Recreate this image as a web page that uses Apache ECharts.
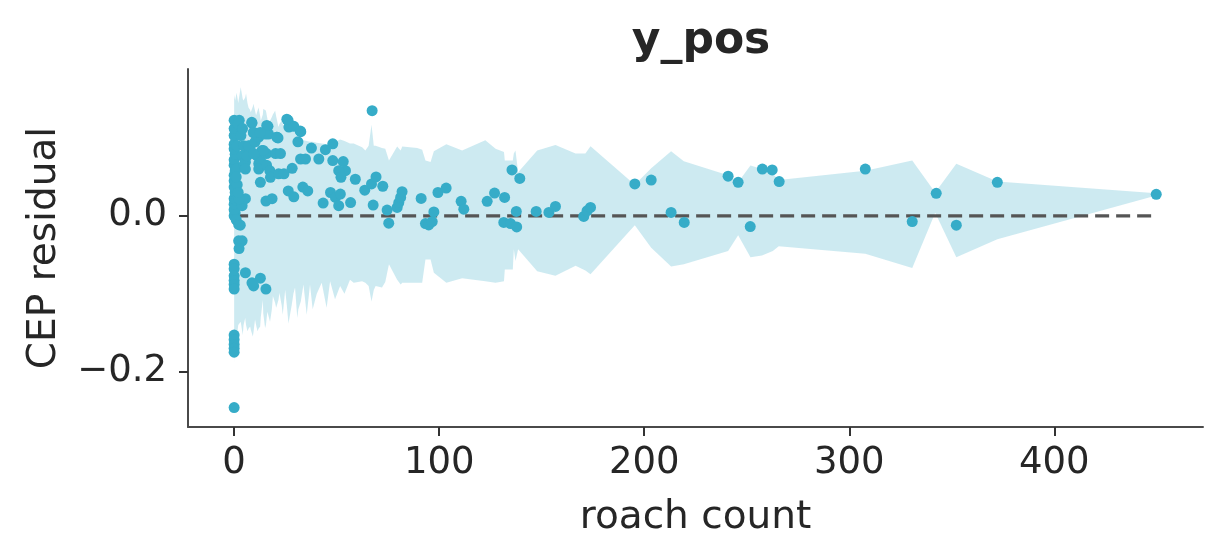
<!DOCTYPE html>
<html>
<head>
<meta charset="utf-8">
<script src="https://cdn.jsdelivr.net/npm/echarts@6/dist/echarts.min.js"></script>
<style>
html,body{margin:0;padding:0;background:#fff;}
#chart{width:1223px;height:559px;}
</style>
</head>
<body>
<div id="chart"></div>
<script>
// ---- data ----
const titleText = 'y_pos';
const xName = 'roach count';
const yName = 'CEP residual';
const xTicks = [0, 100, 200, 300, 400];
const yTicks = [-0.2, 0.0];

const bandX = [0,0.5,1.2,2,3.2,4.2,4.6,5.4,5.8,6.5,
  7.0,7.8,8.1,9.1,9.4,10.2,10.7,11.4,11.9,12.7,
  13.0,14.0,14.2,15.1,15.5,16.2,16.7,17.5,18.4,18.9,
  20.0,20.5,21.6,22.1,23.2,23.7,24.9,25.7,26.5,28.1,
  28.9,29.7,30.8,31.3,32.5,33.8,35.4,37.0,38.3,40.3,
  42.7,45.1,46.8,49.2,51.7,53.8,56.5,58.3,62.4,64.0,
  65.6,67.0,68.1,69.0,72.1,73.7,75.5,79.5,81.2,82.0,
  89.3,91.7,93.3,95.8,97.4,103.5,111.2,122.5,127.5,131.6,
  132.0,135.9,136.4,137.2,138.5,147.8,156.7,166.5,171.3,173.8,
  195.4,203.4,213.1,219.3,240.9,245.8,251.8,257.4,262.7,265.6,
  307.8,330.7,341.9,352.2,372.2,449.7];
const bandUpper = [0.155,0.148,0.158,0.145,0.165,0.150,0.148,0.152,0.157,0.145,
  0.139,0.136,0.133,0.140,0.144,0.135,0.129,0.135,0.139,0.128,
  0.122,0.130,0.137,0.136,0.135,0.125,0.118,0.122,0.127,0.130,
  0.135,0.128,0.114,0.118,0.122,0.118,0.113,0.109,0.111,0.113,
  0.114,0.108,0.102,0.100,0.098,0.097,0.096,0.095,0.095,0.094,
  0.093,0.092,0.093,0.095,0.098,0.096,0.093,0.093,0.088,0.084,
  0.090,0.117,0.090,0.090,0.087,0.086,0.071,0.089,0.084,0.089,
  0.087,0.085,0.071,0.069,0.083,0.092,0.084,0.097,0.086,0.082,
  0.071,0.071,0.080,0.084,0.056,0.084,0.091,0.080,0.080,0.0895,
  0.040,0.061,0.083,0.070,0.052,0.043,0.0646,0.060,0.054,0.046,
  0.058,0.071,0.030,0.067,0.044,0.029];
const bandLower = [-0.188,-0.145,-0.158,-0.140,-0.136,-0.153,-0.140,-0.131,-0.140,-0.148,
  -0.145,-0.142,-0.146,-0.155,-0.150,-0.133,-0.140,-0.148,-0.145,-0.142,
  -0.130,-0.108,-0.125,-0.144,-0.140,-0.123,-0.128,-0.136,-0.120,-0.103,
  -0.112,-0.118,-0.108,-0.099,-0.115,-0.127,-0.095,-0.115,-0.138,-0.114,
  -0.100,-0.092,-0.131,-0.120,-0.110,-0.088,-0.127,-0.088,-0.120,-0.100,
  -0.086,-0.118,-0.084,-0.107,-0.090,-0.100,-0.082,-0.086,-0.084,-0.086,
  -0.090,-0.110,-0.095,-0.090,-0.092,-0.085,-0.062,-0.082,-0.088,-0.086,
  -0.086,-0.086,-0.056,-0.056,-0.073,-0.086,-0.080,-0.084,-0.086,-0.084,
  -0.069,-0.069,-0.043,-0.058,-0.043,-0.071,-0.077,-0.064,-0.070,-0.075,
  -0.012,-0.041,-0.065,-0.062,-0.045,-0.025,-0.053,-0.051,-0.045,-0.039,
  -0.0485,-0.067,0.004,-0.053,-0.030,0.026];

const pointsX = [0,0,0,0,0,0,0,0,0,0,0,0,
  0.5,0,0,0,0,0.5,0,0,0,0.5,0,0,0.5,0,0,0,0,0,
  1,1.5,1,1.5,1,1,2.5,3.3,2.2,3,2.2,3.9,2.4,
  5.5,9.5,12.8,15.5,8.7,
  4.7,6.3,7.9,3.9,4.7,5.5,5.5,6.3,
  3.9,5.5,2.4,2,
  8.7,9.5,7.0,10.2,12.0,
  11.2,12.0,13.6,15.8,20.2,22.6,14.2,9.5,
  13.2,12.0,15.8,17.4,
  12.8,17.7,21.7,24.3,28.3,
  15.5,18.5,
  16.5,15.2,16.8,20.9,21.4,
  26.3,26.7,29.1,32.5,31.1,37.7,
  32.4,34.8,41.3,
  26.4,29.1,33.5,35.9,
  43.4,47.0,49.4,51.0,51.8,56.8,
  48.1,44.5,48.1,53.2,54.3,51.0,52.1,59.1,
  67.3,
  63.7,67.0,69.2,72.5,
  67.8,74.6,75.4,
  79.5,80.3,81.2,81.9,
  91.2,97.4,93.3,94.9,96.6,
  99.4,103.4,
  110.7,112.0,
  123.4,127.0,131.9,
  135.5,139.3,
  137.6,131.5,134.8,137.8,
  147.3,153.5,156.7,
  170.5,172.1,173.8,
  195.4,203.4,213.1,219.5,
  240.9,245.8,251.7,257.6,262.4,265.8,
  307.8,330.7,342.4,352.2,372.2,449.7,
  8.6,15.9,25.7,32.2,20.8,9.4,12.7,2,4.1];
const pointsY = [-0.246,-0.153,-0.159,-0.165,-0.170,-0.175,-0.062,-0.068,-0.077,-0.083,-0.088,-0.094,
  0.004,0.0,0.008,0.015,0.022,0.030,0.037,0.045,0.052,0.058,0.065,0.072,0.079,0.086,0.092,0.103,0.112,0.1226,
  0.02,0.04,0.06,0.09,0.05,-0.005,0.1226,0.103,-0.011,-0.012,-0.032,-0.032,-0.042,
  -0.073,-0.090,-0.080,-0.094,-0.086,
  0.090,0.084,0.090,0.077,0.065,0.069,0.060,0.077,
  0.013,0.022,0.0215,0.030,
  0.119,0.107,0.090,0.095,0.101,
  0.077,0.067,0.084,0.080,0.080,0.080,0.084,0.080,
  0.069,0.060,0.065,0.058,
  0.043,0.0495,0.054,0.054,0.061,
  0.019,0.022,
  0.115,0.105,0.105,0.101,0.100,
  0.1226,0.114,0.115,0.108,0.095,0.087,
  0.073,0.073,0.073,
  0.032,0.0245,0.037,0.032,
  0.0164,0.030,0.0237,0.013,0.028,0.017,
  0.0925,0.085,0.071,0.0697,0.058,0.058,0.0495,0.047,
  0.135,
  0.033,0.041,0.050,0.038,
  0.0138,0.0074,-0.0094,
  0.0108,0.017,0.0237,0.031,
  0.0224,0.005,-0.0099,-0.0116,-0.0073,
  0.030,0.0357,
  0.0186,0.0086,
  0.0186,0.0293,0.0237,
  0.059,0.048,
  0.0057,-0.0085,-0.0099,-0.0142,
  0.0057,0.0044,0.0121,
  -0.0008,0.0065,0.0108,
  0.041,0.046,0.0044,-0.0085,
  0.051,0.043,-0.0137,0.060,0.059,0.044,
  0.060,-0.0073,0.0289,-0.012,0.043,0.0276,
  0.120,0.116,0.124,0.109,0.101,0.107,0.107,0.118,0.112];

const xMin = -22.5, xMax = 472.5;
const yMin = -0.271, yMax = 0.1885;

// ---- chart ----
const FONT = 'DejaVu Sans';
const dotColor = '#36acc8';
const chart = echarts.init(document.getElementById('chart'), null, {renderer: 'canvas'});
const maxX = Math.max.apply(null, pointsX);
const minX = Math.min.apply(null, pointsX);
const fmtY = v => (Math.abs(v) < 1e-9 ? '0.0' : v.toFixed(1).replace('-', '\u2212'));

chart.setOption({
  animation: false,
  backgroundColor: '#ffffff',
  textStyle: {fontFamily: FONT},
  title: {
    text: titleText, left: 696, top: 15, textAlign: 'center',
    textStyle: {fontFamily: FONT, fontSize: 44, fontWeight: 'bold', color: '#262626'}
  },
  grid: {left: 188, right: 20, top: 69, bottom: 132, containLabel: false},
  xAxis: {
    type: 'value', min: xMin, max: xMax,
    name: xName, nameLocation: 'middle', nameGap: 71,
    nameTextStyle: {fontFamily: FONT, fontSize: 39, color: '#262626'},
    axisLine: {show: true, onZero: false, lineStyle: {color: '#4a4a4a', width: 2}},
    axisTick: {show: true, length: 9, lineStyle: {color: '#333', width: 2}, customValues: xTicks},
    axisLabel: {fontFamily: FONT, fontSize: 37, color: '#262626', margin: 18, customValues: xTicks, formatter: v => String(v)},
    splitLine: {show: false}
  },
  yAxis: {
    type: 'value', min: yMin, max: yMax,
    name: yName, nameLocation: 'middle', nameGap: 124, nameRotate: 90,
    nameTextStyle: {fontFamily: FONT, fontSize: 39, color: '#262626'},
    axisLine: {show: true, onZero: false, lineStyle: {color: '#4a4a4a', width: 2}},
    axisTick: {show: true, length: 9, lineStyle: {color: '#333', width: 2}, customValues: yTicks},
    axisLabel: {fontFamily: FONT, fontSize: 37, color: '#262626', margin: 21, customValues: yTicks, formatter: fmtY},
    splitLine: {show: false}
  },
  series: [
    {
      type: 'custom', silent: true, z: 1, clip: true,
      data: bandX.map((x, i) => [x, bandUpper[i], bandLower[i]]),
      encode: {x: 0, y: [1, 2]},
      renderItem: function (params, api) {
        if (params.dataIndex !== 0) return null;
        const pts = [];
        for (let i = 0; i < bandX.length; i++) pts.push(api.coord([bandX[i], bandUpper[i]]));
        for (let i = bandX.length - 1; i >= 0; i--) pts.push(api.coord([bandX[i], bandLower[i]]));
        return {type: 'polygon', shape: {points: pts}, style: {fill: 'rgba(54,172,200,0.25)', stroke: null}};
      }
    },
    {
      type: 'line', z: 2, silent: true, symbol: 'none',
      data: [[minX, 0], [maxX, 0]],
      lineStyle: {color: '#555555', width: 3.2, type: [14, 7], cap: 'butt'}
    },
    {
      type: 'scatter', z: 3, silent: true, symbolSize: 11,
      data: pointsX.map((x, i) => [x, pointsY[i]]),
      itemStyle: {color: dotColor, opacity: 1}
    }
  ]
});
</script>
</body>
</html>
